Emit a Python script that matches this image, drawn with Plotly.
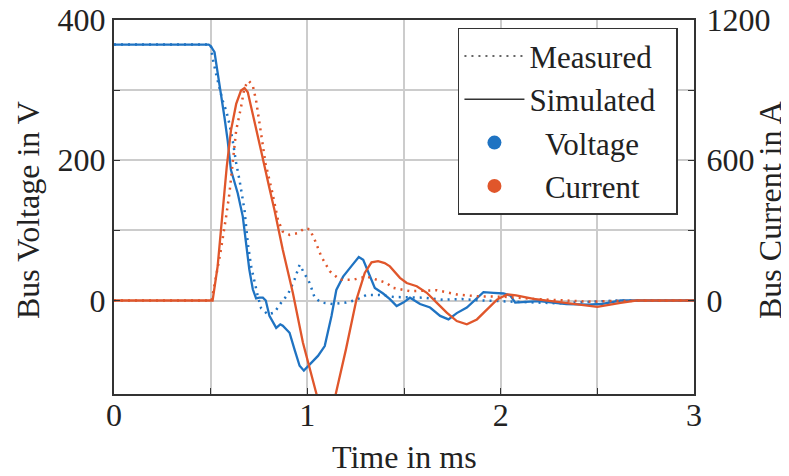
import plotly.graph_objects as go

# ---------------- data ----------------
# Voltage, simulated (solid)
t_v_sim = [0, 0.49, 0.50, 0.52, 0.536, 0.553, 0.571, 0.588, 0.605, 0.64, 0.666, 0.683, 0.70,
           0.718, 0.735, 0.752, 0.77, 0.785, 0.804, 0.839, 0.86, 0.873, 0.908, 0.934, 0.96,
           0.982, 1.012, 1.055, 1.09, 1.125, 1.15, 1.185, 1.228, 1.266, 1.289, 1.323, 1.349,
           1.392, 1.427, 1.462, 1.496, 1.531, 1.583, 1.635, 1.687, 1.73, 1.773, 1.825, 1.877,
           1.911, 1.963, 2.015, 2.05, 2.075, 2.13, 2.2, 2.34, 2.45, 2.52, 2.62, 3.0]
v_sim = [365, 365, 363, 354, 325, 297, 262, 228, 186, 153, 120, 82, 44,
         16, 3, 4, 4, 0, -22, -39, -34, -36, -46, -70, -93,
         -100, -91, -79, -65, -22, 15, 34, 49, 62, 58, 36, 18,
         10, 2, -8, -3, 4, -5, -10, -22, -27, -18, -10, 4,
         12, 11, 10, 7, -3, -2, -1, -5, -6, -5, 0, 0]

# Voltage, measured (dotted)
t_v_meas = [0, 0.5, 0.51, 0.528, 0.562, 0.58, 0.597, 0.614, 0.632, 0.649, 0.675, 0.692, 0.709,
            0.727, 0.744, 0.761, 0.796, 0.83, 0.865, 0.9, 0.934, 0.96, 0.986, 1.012, 1.038,
            1.072, 1.133, 1.2, 1.254, 1.306, 1.375, 1.45, 1.6, 1.7, 1.8, 1.9, 2.1, 2.3, 2.45,
            2.6, 3.0]
v_meas = [365, 365, 346, 323, 285, 271, 252, 228, 196, 172, 129, 82, 49,
          25, 6, -11, -20, -17, -3, 9, 30, 51, 39, 25, 4,
          -3, -5, -3, 1, 8, 8, 5, 4, 1, 2, 0, -2, -4, -2,
          0, 0]

# Current, simulated (solid)
t_i_sim = [0, 0.51, 0.536, 0.553, 0.571, 0.583, 0.605, 0.632, 0.657, 0.675, 0.692, 0.718,
           0.752, 0.761, 0.804, 0.83, 0.873, 0.925, 0.977, 1.012, 1.047, 1.10, 1.147, 1.2,
           1.254, 1.297, 1.332, 1.366, 1.40, 1.427, 1.479, 1.514, 1.566, 1.618, 1.67, 1.721,
           1.773, 1.825, 1.877, 1.929, 1.981, 2.033, 2.08, 2.17, 2.344, 2.5, 2.62, 2.7, 3.0]
i_sim = [0, 0, 146, 302, 458, 571, 728, 841, 898, 909, 891, 799,
         671, 640, 480, 387, 217, 33, -180, -294, -400, -565, -400, -208,
         4, 118, 163, 168, 160, 146, 97, 75, 61, 33, -10, -52,
         -88, -102, -81, -38, 4, 26, 22, 7, -10, -27, -10, 0, 0]

# Current, measured (dotted)
t_i_meas = [0, 0.505, 0.528, 0.553, 0.58, 0.597, 0.614, 0.632, 0.657, 0.675, 0.697, 0.718,
            0.735, 0.752, 0.77, 0.784, 0.82, 0.848, 0.873, 0.908, 0.951, 0.986, 1.012, 1.038,
            1.072, 1.116, 1.168, 1.237, 1.306, 1.358, 1.41, 1.444, 1.531, 1.67, 1.773, 1.877,
            2.015, 2.15, 2.3, 2.45, 2.6, 3.0]
i_meas = [0, 0, 103, 217, 359, 458, 590, 728, 827, 912, 940, 919,
          855, 756, 657, 586, 458, 345, 295, 281, 288, 309, 305, 260,
          189, 125, 89, 89, 103, 89, 75, 54, 40, 44, 26, 18,
          16, 8, 0, -5, -2, 0]

x_ticks = [0, 0.5, 1, 1.5, 2, 2.5, 3]
x_ticktext = ["0", "", "1", "", "2", "", "3"]
y_ticks = [0, 100, 200, 300, 400]
y_ticktext = ["0", "", "200", "", "400"]
y2_ticks = [0, 300, 600, 900, 1200]
y2_ticktext = ["0", "", "600", "", "1200"]

BLUE = "#1f73c2"
ORANGE = "#e0562b"
DARK = "#333333"
FONT = "Liberation Serif"
DOT = "2px,5px"
FS = 32
NB = "\u00a0"

fig = go.Figure()
fig.add_trace(go.Scatter(x=t_v_meas, y=v_meas, mode="lines", showlegend=False,
                         line=dict(color=BLUE, width=2.5, dash=DOT)))
fig.add_trace(go.Scatter(x=t_v_sim, y=v_sim, mode="lines", showlegend=False,
                         line=dict(color=BLUE, width=2.3)))
fig.add_trace(go.Scatter(x=t_i_meas, y=i_meas, mode="lines", showlegend=False, yaxis="y2",
                         line=dict(color=ORANGE, width=2.5, dash=DOT)))
fig.add_trace(go.Scatter(x=t_i_sim, y=i_sim, mode="lines", showlegend=False, yaxis="y2",
                         line=dict(color=ORANGE, width=2.3)))

# legend entries
fig.add_trace(go.Scatter(x=[None], y=[None], mode="lines", name="Measured",
                         line=dict(color=DARK, width=1.5, dash=DOT)))
fig.add_trace(go.Scatter(x=[None], y=[None], mode="lines", name="Simulated" + NB * 2,
                         line=dict(color=DARK, width=1.5)))
fig.add_trace(go.Scatter(x=[None], y=[None], mode="markers", name=NB * 2 + "Voltage",
                         marker=dict(color=BLUE, size=14)))
fig.add_trace(go.Scatter(x=[None], y=[None], mode="markers", name=NB * 2 + "Current",
                         marker=dict(color=ORANGE, size=14)))

axis_common = dict(showline=True, linecolor=DARK, linewidth=2, ticks="inside", ticklen=6,
                   tickcolor=DARK, zeroline=False, automargin=False,
                   ticklabeloverflow="allow")

fig.update_layout(
    width=781, height=468,
    margin=dict(l=106, r=95, t=12, b=82),
    paper_bgcolor="white", plot_bgcolor="white",
    font=dict(family=FONT, size=FS, color="#222222"),
    xaxis=dict(range=[0, 3], tickvals=x_ticks, ticktext=x_ticktext,
               showgrid=True, gridcolor="#cccccc", gridwidth=1.5, mirror=True,
               ticklabelstandoff=-8, **axis_common),
    yaxis=dict(range=[-133.333, 400], tickvals=y_ticks, ticktext=y_ticktext,
               showgrid=True, gridcolor="#cccccc", gridwidth=1.5, mirror=True,
               **axis_common),
    yaxis2=dict(range=[-400, 1200], tickvals=y2_ticks, ticktext=y2_ticktext,
                overlaying="y", side="right", showgrid=False,
                ticklabelstandoff=4, **axis_common),
    legend=dict(x=0.593, y=0.979, xanchor="left", yanchor="top",
                bgcolor="white", bordercolor=DARK, borderwidth=1.5,
                itemwidth=60, font=dict(size=31), tracegroupgap=0),
    annotations=[
        dict(text="Time in ms", xref="paper", yref="paper", x=0.5, y=0,
             xanchor="center", yanchor="middle", yshift=-63, showarrow=False,
             font=dict(size=FS)),
        dict(text="Bus Voltage in V", xref="paper", yref="paper", x=0, y=0.492,
             xanchor="center", yanchor="middle", xshift=-86, textangle=-90,
             showarrow=False, font=dict(size=FS)),
        dict(text="Bus Current in A", xref="paper", yref="paper", x=1, y=0.492,
             xanchor="center", yanchor="middle", xshift=76, textangle=-90,
             showarrow=False, font=dict(size=FS)),
    ],
)

fig.write_html("out.html")
